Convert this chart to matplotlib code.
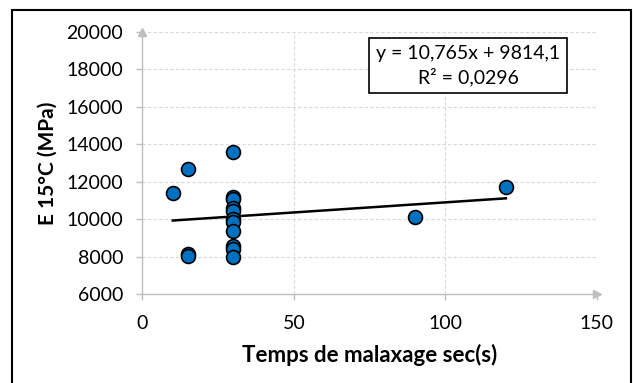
import matplotlib.pyplot as plt
from matplotlib.patches import Rectangle

# Data
temps_x = [10, 15, 15, 15, 30, 30, 30, 30, 30, 30, 30, 30, 30, 30, 30, 90, 120]
module_y = [11380, 12670, 8150, 8050, 13560, 11200, 11050, 10600, 10450,
            10000, 9850, 9350, 8550, 8400, 8000, 10130, 11690]

# Trend line given by the chart
slope = 10.765
intercept = 9814.1
line_x = [min(temps_x), max(temps_x)]

x_ticks = [0, 50, 100, 150]
y_ticks = [6000, 8000, 10000, 12000, 14000, 16000, 18000, 20000]

plt.rcParams['font.family'] = ['Lato', 'DejaVu Sans']

fig = plt.figure(figsize=(6.33, 3.83), dpi=100)
ax = fig.add_axes([0.2251, 0.2324, 0.7176, 0.6848])

grey = '#BFBFBF'

ax.set_xlim(0, 150)
ax.set_ylim(6000, 20000)
ax.set_xticks(x_ticks)
ax.set_yticks(y_ticks)
ax.grid(True, linestyle=(0, (3, 2)), color='#D9D9D9', linewidth=0.8)
ax.set_axisbelow(True)

for side in ['top', 'right']:
    ax.spines[side].set_visible(False)
for side in ['left', 'bottom']:
    ax.spines[side].set_color(grey)
    ax.spines[side].set_linewidth(1.0)

ax.tick_params(axis='both', colors=grey, length=4, width=1.0, labelcolor='black',
               labelsize=14)
ax.tick_params(axis='x', pad=11)
ax.tick_params(axis='y', pad=10)

# arrowheads at axis ends
ax.plot([0], [1], marker='^', markersize=6, color=grey, transform=ax.transAxes, clip_on=False)
ax.plot([1], [0], marker='>', markersize=6, color=grey, transform=ax.transAxes, clip_on=False)

ax.plot(line_x, [slope * v + intercept for v in line_x], color='black', linewidth=1.8, zorder=2)
ax.scatter(temps_x, module_y, s=100, color='#0070C0', edgecolors='black', linewidths=1.2, zorder=3)

ax.set_xlabel('Temps de malaxage sec(s)', fontsize=16, fontweight='bold', labelpad=9)
ax.set_ylabel('E 15°C (MPa)', fontsize=15, fontweight='bold', labelpad=6)

ax.text(0.717, 0.871, 'y = 10,765x + 9814,1\nR² = 0,0296', transform=ax.transAxes,
        ha='center', va='center', fontsize=14, linespacing=1.35,
        bbox=dict(boxstyle='square,pad=0.35', facecolor='white', edgecolor='black', linewidth=1.2))

# outer chart border
fig.patches.append(Rectangle((12 / 633, -0.05), 619 / 633, 1.05 - 10 / 383, transform=fig.transFigure,
                             fill=False, edgecolor='black', linewidth=1.5))

fig.savefig('out.png', dpi=100)
